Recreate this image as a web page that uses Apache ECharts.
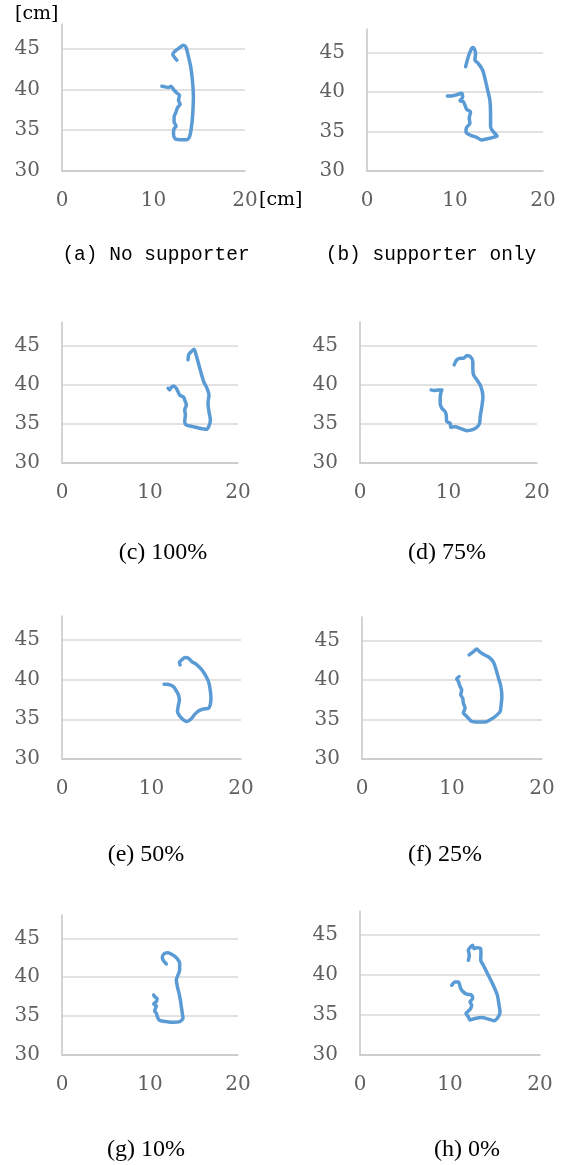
<!DOCTYPE html>
<html>
<head>
<meta charset="utf-8">
<script src="https://cdn.jsdelivr.net/npm/echarts@6/dist/echarts.min.js"></script>
<style>
html,body{margin:0;padding:0;background:#fff;}
#chart{width:566px;height:1165px;}
</style>
</head>
<body>
<div id="chart"></div>
<script>
// ---- data (x [cm], y [cm]) ----
const xTicks = [0, 10, 20];
const yTicks = [30, 35, 40, 45];

const pathA = [[12.55,43.57],[12.11,44.31],[12.73,45.0],[13.27,45.41],[13.56,45.12],[13.82,43.98],[14.07,42.75],[14.25,41.12],[14.36,39.07],[14.29,37.03],[14.15,35.39],[13.93,34.17],[13.64,33.84],[12.91,33.84],[12.36,33.96],[12.18,34.58],[12.25,35.19],[12.47,35.48],[12.25,36.01],[12.25,36.62],[12.47,37.23],[12.62,37.76],[12.91,38.17],[12.73,38.66],[12.84,39.28],[12.55,39.56],[12.25,39.89],[11.89,40.38],[11.64,40.22],[11.27,40.30],[10.91,40.38]];
const pathB = [[11.21,43.22],[11.51,44.49],[11.89,45.55],[12.08,45.67],[12.34,44.91],[12.26,44.07],[12.64,43.65],[13.13,42.80],[13.40,41.74],[13.66,40.48],[13.96,39.00],[14.04,37.31],[14.04,35.62],[14.34,34.99],[14.79,34.44],[14.34,34.27],[13.58,34.06],[13.02,33.93],[12.45,34.27],[11.70,34.56],[11.25,34.99],[11.32,35.53],[11.70,36.04],[11.62,36.68],[11.77,37.52],[11.32,37.82],[11.13,38.36],[10.94,38.79],[10.57,38.91],[10.87,39.34],[10.75,39.84],[10.19,39.67],[9.62,39.51],[9.13,39.51]];
const pathC = [[14.32,43.17],[14.39,43.80],[14.70,44.23],[15.0,44.53],[15.19,44.02],[15.45,42.95],[15.76,41.67],[16.10,40.40],[16.48,39.54],[16.70,38.69],[16.59,37.63],[16.70,36.56],[16.86,35.50],[16.70,34.73],[16.40,34.30],[15.64,34.43],[14.89,34.64],[14.13,34.86],[13.94,35.28],[14.02,36.14],[13.94,36.77],[14.13,37.41],[13.94,38.05],[13.83,38.39],[13.37,38.69],[13.18,39.12],[12.99,39.54],[12.69,39.84],[12.42,39.67],[12.23,39.33],[12.05,39.54]];
const pathD = [[10.64,42.53],[10.94,43.17],[11.40,43.38],[11.70,43.38],[12.08,43.72],[12.45,43.59],[12.75,42.95],[12.75,42.10],[12.83,41.25],[13.21,40.61],[13.66,39.76],[13.89,38.48],[13.77,37.20],[13.58,35.92],[13.51,35.07],[13.21,34.56],[12.64,34.22],[12.08,34.13],[11.32,34.43],[10.75,34.64],[10.26,34.56],[10.19,35.07],[9.81,35.28],[9.74,36.14],[9.62,36.56],[9.25,36.99],[9.06,37.63],[9.06,38.27],[9.13,38.91],[9.25,39.33],[8.87,39.33],[8.38,39.25],[8.04,39.33]];
const pathE = [[13.20,41.85],[13.12,42.18],[13.38,42.48],[13.76,42.77],[14.13,42.69],[14.50,42.27],[15.07,41.85],[15.63,41.22],[16.0,40.59],[16.37,39.75],[16.56,38.70],[16.64,37.65],[16.56,36.81],[16.37,36.39],[15.81,36.30],[15.25,36.05],[14.77,35.55],[14.50,35.13],[13.94,34.71],[13.57,34.92],[13.20,35.34],[12.90,35.97],[13.01,36.81],[13.12,37.44],[13.01,38.07],[12.82,38.49],[12.64,38.82],[12.45,39.12],[12.07,39.33],[11.70,39.41],[11.40,39.41]];
const pathF = [[11.90,43.19],[12.38,43.61],[12.75,43.95],[13.05,43.61],[13.49,43.27],[14.16,42.85],[14.61,42.26],[14.91,41.29],[15.17,40.24],[15.43,39.19],[15.54,37.92],[15.46,36.87],[15.35,36.03],[14.80,35.39],[14.24,34.97],[13.68,34.68],[12.94,34.68],[12.19,34.76],[11.82,35.18],[11.45,35.60],[11.26,35.82],[11.45,36.45],[11.26,37.08],[11.19,37.71],[10.97,38.13],[11.08,38.77],[10.89,39.19],[10.71,39.82],[10.52,40.16],[10.78,40.45]];
const pathG = [[11.86,41.70],[11.48,42.22],[11.40,42.64],[11.67,43.07],[12.05,43.16],[12.61,42.86],[13.07,42.43],[13.37,41.79],[13.37,40.93],[13.18,40.29],[12.99,39.64],[13.11,38.79],[13.30,37.93],[13.45,37.07],[13.56,36.21],[13.67,35.36],[13.75,34.71],[13.37,34.29],[12.61,34.20],[11.86,34.29],[11.17,34.41],[10.91,34.71],[10.72,35.36],[10.53,35.70],[10.72,36.30],[10.42,36.56],[10.72,36.86],[10.80,37.29],[10.53,37.50],[10.42,37.72]];
const pathH = [[12.04,41.84],[12.15,42.46],[12.04,43.09],[12.22,43.42],[12.52,43.71],[12.67,43.29],[12.96,43.42],[13.41,43.29],[13.44,42.67],[13.41,41.84],[13.70,41.22],[14.07,40.39],[14.44,39.56],[14.89,38.52],[15.26,37.48],[15.48,36.02],[15.56,35.40],[15.37,34.78],[14.89,34.28],[14.26,34.49],[13.52,34.69],[12.78,34.57],[12.22,34.36],[12.04,34.78],[11.78,35.19],[12.22,35.69],[12.41,36.23],[12.22,36.65],[12.52,37.06],[12.41,37.48],[11.85,37.60],[11.48,37.89],[11.19,38.31],[10.93,39.14],[10.56,39.14],[10.19,38.72]];

const captions = ['(a) No supporter', '(b) supporter only', '(c) 100%', '(d) 75%', '(e) 50%', '(f) 25%', '(g) 10%', '(h) 0%'];
const paths = [pathA, pathB, pathC, pathD, pathE, pathF, pathG, pathH];

// ---- layout ----
const grids = [
  {left: 62, top: 24, width: 183, height: 147},
  {left: 367, top: 29, width: 176, height: 142},
  {left: 62, top: 322, width: 176, height: 141},
  {left: 360, top: 322, width: 177, height: 141},
  {left: 62, top: 616, width: 179, height: 143},
  {left: 362, top: 617, width: 180, height: 142},
  {left: 62, top: 915, width: 176, height: 140},
  {left: 360, top: 911, width: 180, height: 144}
];
const capPos = [[156,255],[431,255],[163,553],[447,553],[146,855],[445,855],[146,1150],[467,1150]];

const tickFont = {fontFamily: 'DejaVu Serif', fontSize: 20, color: '#606060'};
const xAxes = [], yAxes = [], series = [];
grids.forEach((g, i) => {
  xAxes.push({
    type: 'value', gridIndex: i, min: xTicks[0], max: xTicks[xTicks.length-1], interval: xTicks[1]-xTicks[0],
    axisLine: {show: true, lineStyle: {color: '#c6c6c6', width: 1.5}},
    axisTick: {show: false}, splitLine: {show: false},
    axisLabel: Object.assign({margin: 20}, tickFont)
  });
  yAxes.push({
    type: 'value', gridIndex: i, min: yTicks[0], max: 48, interval: yTicks[1]-yTicks[0],
    axisLine: {show: true, lineStyle: {color: '#c6c6c6', width: 1.5}},
    axisTick: {show: false},
    splitLine: {show: true, showMaxLine: false, lineStyle: {color: '#d9d9d9', width: 1.5}},
    axisLabel: Object.assign({margin: 22, showMaxLabel: false,
      formatter: v => (yTicks.indexOf(v) >= 0 ? String(v) : '')}, tickFont)
  });
  series.push({
    type: 'line', xAxisIndex: i, yAxisIndex: i, data: paths[i],
    showSymbol: false, smooth: 0.25, animation: false,
    lineStyle: {color: '#5b9bd5', width: 3.5, cap: 'round', join: 'round'}
  });
});

const graphics = [
  {type: 'text', left: 15, top: 5, style: {text: '[cm]', font: '19px "DejaVu Serif"', fill: '#000'}},
  {type: 'text', left: 259, top: 191, style: {text: '[cm]', font: '19px "DejaVu Serif"', fill: '#000'}}
];
captions.forEach((c, i) => {
  const mono = i < 2;
  graphics.push({type: 'text', x: capPos[i][0], y: capPos[i][1], style: {
    text: c, textAlign: 'center', textVerticalAlign: 'middle',
    font: mono ? '19.5px "Liberation Mono"' : '24px "Liberation Serif"', fill: '#000'}});
});

const chart = echarts.init(document.getElementById('chart'), null, {renderer: 'canvas'});
chart.setOption({
  animation: false,
  grid: grids.map(g => Object.assign({containLabel: false}, g)),
  xAxis: xAxes, yAxis: yAxes, series: series, graphic: graphics
});
</script>
</body>
</html>
